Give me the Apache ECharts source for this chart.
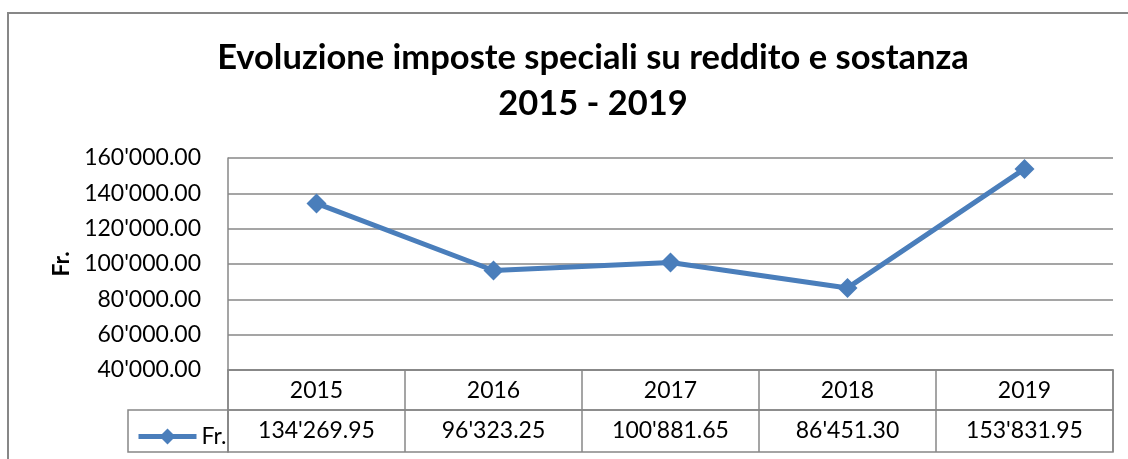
<!DOCTYPE html>
<html>
<head>
<meta charset="utf-8">
<script src="https://cdn.jsdelivr.net/npm/echarts@6/dist/echarts.min.js"></script>
<style>
  html, body { margin: 0; padding: 0; background: #fff; }
  #chart { width: 1128px; height: 459px; }
</style>
</head>
<body>
<div id="chart"></div>
<script>
const years = ["2015", "2016", "2017", "2018", "2019"];
const values = [134269.95, 96323.25, 100881.65, 86451.3, 153831.95];
const yTicks = { min: 40000, max: 160000, step: 20000 };
const seriesName = "Fr.";

const FONT = "Lato";
const GRAY = "#878787";
const BLUE = "#4A7EBB";

// 134269.95 -> 134'269.95
const fmt = (v, dec) => {
  const parts = v.toFixed(dec).split(".");
  parts[0] = parts[0].replace(/\B(?=(\d{3})+(?!\d))/g, "'");
  return parts.join(".");
};

const chart = echarts.init(document.getElementById("chart"));
chart.setOption({
  animation: false,
  textStyle: { fontFamily: FONT },
  title: {
    text: "Evoluzione imposte speciali su reddito e sostanza\n2015 - 2019",
    left: 588,
    textAlign: "center",
    top: 30,
    textStyle: { fontFamily: FONT, fontSize: 34.5, fontWeight: "bold", color: "#000", lineHeight: 46 },
  },
  legend: {
    data: [seriesName],
    left: 131,
    top: 420,
    itemWidth: 58,
    itemHeight: 20,
    itemGap: 4,
    lineStyle: { width: 5 },
    textStyle: { fontFamily: FONT, fontSize: 23, color: "#000" },
  },
  graphic: [
    {
      type: "rect",
      shape: { x: 8, y: 13, width: 1300, height: 600 },
      style: { fill: "none", stroke: GRAY, lineWidth: 2 },
      silent: true,
    },
  ],
  grid: [
    { left: 228, right: 15, top: 158, height: 212 },
    { left: 228, right: 15, top: 370, height: 40, show: true, borderColor: GRAY, borderWidth: 1.5 },
    { left: 228, right: 15, top: 410, height: 42, show: true, borderColor: GRAY, borderWidth: 1.5 },
    { left: 128, width: 100, top: 410, height: 42, show: true, borderColor: GRAY, borderWidth: 1.5 },
  ],
  xAxis: [
    {
      gridIndex: 0,
      type: "category",
      data: years,
      boundaryGap: true,
      axisLine: { show: true, lineStyle: { color: GRAY, width: 1.5 } },
      axisTick: { show: false },
      axisLabel: { show: false },
    },
    {
      gridIndex: 1,
      type: "category",
      data: years,
      position: "top",
      axisLine: { show: false },
      axisTick: { show: false },
      splitLine: { show: true, interval: 0, lineStyle: { color: GRAY, width: 1.5 } },
      axisLabel: { inside: true, margin: 9, interval: 0, fontFamily: FONT, fontSize: 23, color: "#000" },
    },
    {
      gridIndex: 2,
      type: "category",
      data: values.map((v) => fmt(v, 2)),
      position: "top",
      axisLine: { show: false },
      axisTick: { show: false },
      splitLine: { show: true, interval: 0, lineStyle: { color: GRAY, width: 1.5 } },
      axisLabel: { inside: true, margin: 9, interval: 0, fontFamily: FONT, fontSize: 23, color: "#000" },
    },
    { gridIndex: 3, type: "category", data: [""], show: false },
  ],
  yAxis: [
    {
      gridIndex: 0,
      type: "value",
      min: yTicks.min,
      max: yTicks.max,
      interval: yTicks.step,
      name: seriesName,
      nameLocation: "middle",
      nameGap: 155,
      nameRotate: 90,
      nameTextStyle: { fontFamily: FONT, fontSize: 23, fontWeight: "bold", color: "#000" },
      axisLine: { show: true, lineStyle: { color: GRAY, width: 1.5 } },
      axisTick: { show: false },
      splitLine: { show: true, lineStyle: { color: GRAY, width: 1.5 } },
      axisLabel: {
        margin: 27,
        fontFamily: FONT,
        fontSize: 23,
        color: "#000",
        formatter: (v) => fmt(v, 2),
      },
    },
    { gridIndex: 1, type: "value", show: false },
    { gridIndex: 2, type: "value", show: false },
    { gridIndex: 3, type: "value", show: false },
  ],
  series: [
    {
      name: seriesName,
      type: "line",
      xAxisIndex: 0,
      yAxisIndex: 0,
      data: values,
      symbol: "diamond",
      symbolSize: 20,
      lineStyle: { color: BLUE, width: 5 },
      itemStyle: { color: BLUE },
    },
  ],
});
</script>
</body>
</html>
